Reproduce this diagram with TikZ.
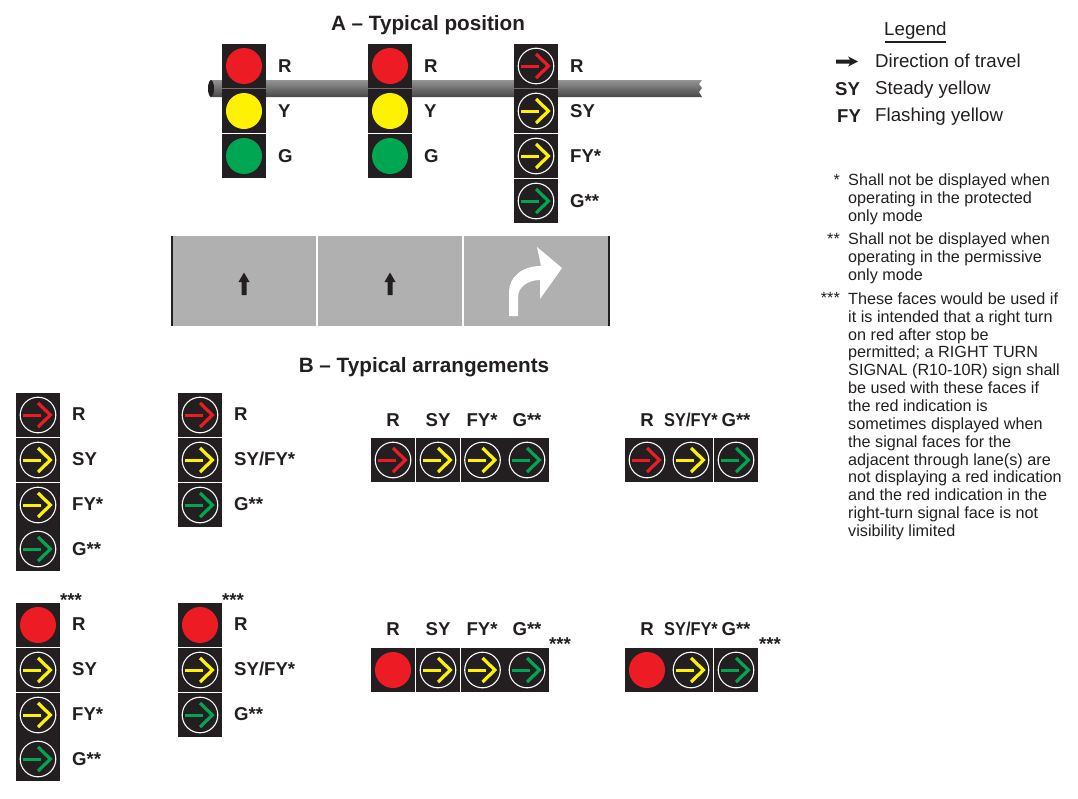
\documentclass[tikz,border=0pt]{standalone}
\usepackage{fontspec}
\setmainfont{Liberation Sans}
\definecolor{faceblack}{HTML}{231F20}
\definecolor{facered}{HTML}{ED1C24}
\definecolor{faceyellow}{HTML}{FFF200}
\definecolor{facegreen}{HTML}{00A651}
\definecolor{roadgray}{HTML}{B0B0B0}
\tikzset{
    title/.style={inner sep=0pt, text=faceblack, font=\fontsize{20.7}{24}\selectfont\bfseries},
    signlabel/.style={anchor=base west, inner sep=0pt, text=faceblack, font=\fontsize{18.6}{22}\selectfont\bfseries},
    toplabel/.style={signlabel, anchor=base},
    narrowlabel/.style={toplabel, transform shape, xscale=0.88},
    starlabel/.style={anchor=base west, inner sep=0pt, text=faceblack, font=\fontsize{18.6}{20}\selectfont\bfseries},
    legendtext/.style={anchor=base west, inner sep=0pt, text=faceblack, font=\fontsize{18.7}{22}\selectfont},
    notetext/.style={anchor=north west, inner sep=0pt, align=left, text=faceblack, font=\fontsize{16.2}{17.85}\selectfont},
    notestar/.style={anchor=north east, inner sep=0pt, text=faceblack, font=\fontsize{16.2}{17.85}\selectfont},
    facebox/.style={fill=faceblack, minimum width=44, minimum height=44, inner sep=0pt},
}
% face with a round indication: name, x, y, colour
\newcommand{\ballface}[4]{
    \node[facebox] (#1) at (#2, #3) {};
    \fill[#4] (#1.center) circle (18);
}
% face with an arrow indication: name, x, y, colour
\newcommand{\arrowface}[4]{
    \node[facebox] (#1) at (#2, #3) {};
    \begin{scope}[shift={(#2, #3)}]
        \draw[white, line width=1.1pt] (0, 0) circle (17.8);
        \draw[#4, line width=3pt] (-15, 0) -- (3.3, 0);
        \draw[#4, line width=3.2pt] (0, -12) -- (12.4, 0) -- (0, 12);
    \end{scope}
}
\begin{document}
\begin{tikzpicture}[x=1pt, y=-1pt]
    \useasboundingbox (0, 0) rectangle (1078, 798);
    \node[title] (titleA) at (428, 25.5) {A -- Typical position};
    \node[title] (titleB) at (424, 367.5) {B -- Typical arrangements};

    % mast arm
    \shade[top color=black!42, middle color=black!15, bottom color=black!72]
        (211, 80) -- (702, 80) -- (699, 84) -- (702, 88) -- (699, 92) -- (702, 97) -- (211, 97) -- cycle;
    \fill[faceblack] (211, 88.5) ellipse (3 and 8.5);

    % A faces
    \ballface{aa}{244}{66}{facered}
    \ballface{ab}{244}{111}{faceyellow}
    \ballface{ac}{244}{156}{facegreen}
    \ballface{ba}{390}{66}{facered}
    \ballface{bb}{390}{111}{faceyellow}
    \ballface{bc}{390}{156}{facegreen}
    \arrowface{ca}{536}{66}{facered}
    \arrowface{cb}{536}{111}{faceyellow}
    \arrowface{cc}{536}{156}{faceyellow}
    \arrowface{cd}{536}{201}{facegreen}
    \node[signlabel] (laa) at (278, 72) {R};
    \node[signlabel] (lab) at (278, 117) {Y};
    \node[signlabel] (lac) at (278, 162) {G};
    \node[signlabel] (lba) at (424, 72) {R};
    \node[signlabel] (lbb) at (424, 117) {Y};
    \node[signlabel] (lbc) at (424, 162) {G};
    \node[signlabel] (lca) at (570, 72) {R};
    \node[signlabel] (lcb) at (570, 117) {SY};
    \node[signlabel] (lcc) at (570, 162) {FY*};
    \node[signlabel] (lcd) at (570, 207) {G**};

    % road
    \fill[roadgray] (171, 236) rectangle (610, 326);
    \draw[faceblack, line width=2pt] (172, 236) -- (172, 326);
    \draw[faceblack, line width=2pt] (609, 236) -- (609, 326);
    \draw[white, line width=2pt] (317, 236) -- (317, 326);
    \draw[white, line width=2pt] (463, 236) -- (463, 326);
    \fill[faceblack] (244, 272.5) -- (249.5, 282) -- (246.5, 282) -- (246.5, 295) -- (241.5, 295) -- (241.5, 282) -- (238.5, 282) -- cycle;
    \fill[faceblack] (390, 272.5) -- (395.5, 282) -- (392.5, 282) -- (392.5, 295) -- (387.5, 295) -- (387.5, 282) -- (384.5, 282) -- cycle;
    \fill[white] (509, 316) -- (518, 316) -- (518, 297) .. controls (518, 287) and (528, 280) .. (540, 280)
        -- (540, 299) -- (562, 268) -- (537, 247) -- (541, 266)
        .. controls (522, 266) and (509, 277) .. (509, 292) -- cycle;

    % B vertical faces with arrows
    \arrowface{da}{38}{415}{facered}
    \arrowface{db}{38}{460}{faceyellow}
    \arrowface{dc}{38}{505}{faceyellow}
    \arrowface{dd}{38}{549}{facegreen}
    \node[signlabel] (lda) at (72, 420) {R};
    \node[signlabel] (ldb) at (72, 465) {SY};
    \node[signlabel] (ldc) at (72, 510) {FY*};
    \node[signlabel] (ldd) at (72, 555) {G**};
    \arrowface{ea}{200}{415}{facered}
    \arrowface{eb}{200}{460}{faceyellow}
    \arrowface{ec}{200}{505}{facegreen}
    \node[signlabel] (lea) at (234, 420) {R};
    \node[signlabel] (leb) at (234, 465) {SY/FY*};
    \node[signlabel] (lec) at (234, 510) {G**};

    % B vertical faces with red ball
    \ballface{fa}{38}{625}{facered}
    \arrowface{fb}{38}{670}{faceyellow}
    \arrowface{fc}{38}{715}{faceyellow}
    \arrowface{fd}{38}{759}{facegreen}
    \node[starlabel] (sfa) at (60, 606) {***};
    \node[signlabel] (lfa) at (72, 630) {R};
    \node[signlabel] (lfb) at (72, 675) {SY};
    \node[signlabel] (lfc) at (72, 720) {FY*};
    \node[signlabel] (lfd) at (72, 765) {G**};
    \ballface{ga}{200}{625}{facered}
    \arrowface{gb}{200}{670}{faceyellow}
    \arrowface{gc}{200}{715}{facegreen}
    \node[starlabel] (sga) at (222, 606) {***};
    \node[signlabel] (lga) at (234, 630) {R};
    \node[signlabel] (lgb) at (234, 675) {SY/FY*};
    \node[signlabel] (lgc) at (234, 720) {G**};

    % B horizontal faces
    \arrowface{ha}{393}{460}{facered}
    \arrowface{hb}{438}{460}{faceyellow}
    \arrowface{hc}{482.5}{460}{faceyellow}
    \arrowface{hd}{527}{460}{facegreen}
    \node[toplabel] (lha) at (393, 426) {R};
    \node[toplabel] (lhb) at (438, 426) {SY};
    \node[toplabel] (lhc) at (482, 426) {FY*};
    \node[toplabel] (lhd) at (527, 426) {G**};
    \arrowface{ia}{647}{460}{facered}
    \arrowface{ib}{691}{460}{faceyellow}
    \arrowface{ic}{736}{460}{facegreen}
    \node[toplabel] (lia) at (647, 426) {R};
    \node[narrowlabel] (lib) at (691, 426) {SY/FY*};
    \node[toplabel] (lic) at (736, 426) {G**};
    \ballface{ja}{393}{670}{facered}
    \arrowface{jb}{438}{670}{faceyellow}
    \arrowface{jc}{482.5}{670}{faceyellow}
    \arrowface{jd}{527}{670}{facegreen}
    \node[toplabel] (lja) at (393, 635) {R};
    \node[toplabel] (ljb) at (438, 635) {SY};
    \node[toplabel] (ljc) at (482, 635) {FY*};
    \node[toplabel] (ljd) at (527, 635) {G**};
    \node[starlabel] (sjd) at (549, 650) {***};
    \ballface{ka}{647}{670}{facered}
    \arrowface{kb}{691}{670}{faceyellow}
    \arrowface{kc}{736}{670}{facegreen}
    \node[toplabel] (lka) at (647, 635) {R};
    \node[narrowlabel] (lkb) at (691, 635) {SY/FY*};
    \node[toplabel] (lkc) at (736, 635) {G**};
    \node[starlabel] (skc) at (759, 650) {***};

    % legend
    \node[legendtext] (legend) at (884, 35) {Legend};
    \draw[faceblack, line width=1.2pt] (885, 42) -- (946, 42);
    \fill[faceblack] (836, 59.5) -- (850, 59.5) -- (848, 56.5) -- (858, 61.5) -- (848, 66.5) -- (850, 63.5) -- (836, 63.5) -- cycle;
    \node[legendtext] (ltravel) at (875, 67) {Direction of travel};
    \node[signlabel] (lsy) at (835, 95) {SY};
    \node[legendtext] (lsteady) at (875, 94) {Steady yellow};
    \node[signlabel] (lfy) at (837, 122) {FY};
    \node[legendtext] (lflash) at (875, 121) {Flashing yellow};

    % notes
    \node[notestar] (stara) at (840, 174) {*};
    \node[notetext] (notea) at (848, 174) {Shall not be displayed when\\operating in the protected\\only mode};
    \node[notestar] (starb) at (840, 233) {**};
    \node[notetext] (noteb) at (848, 233) {Shall not be displayed when\\operating in the permissive\\only mode};
    \node[notestar] (starc) at (840, 292.5) {***};
    \node[notetext] (notec) at (848, 292.5) {These faces would be used if\\it is intended that a right turn\\on red after stop be\\permitted; a RIGHT TURN\\SIGNAL (R10-10R) sign shall\\be used with these faces if\\the red indication is\\sometimes displayed when\\the signal faces for the\\adjacent through lane(s) are\\not displaying a red indication\\and the red indication in the\\right-turn signal face is not\\visibility limited};
\end{tikzpicture}
\end{document}
